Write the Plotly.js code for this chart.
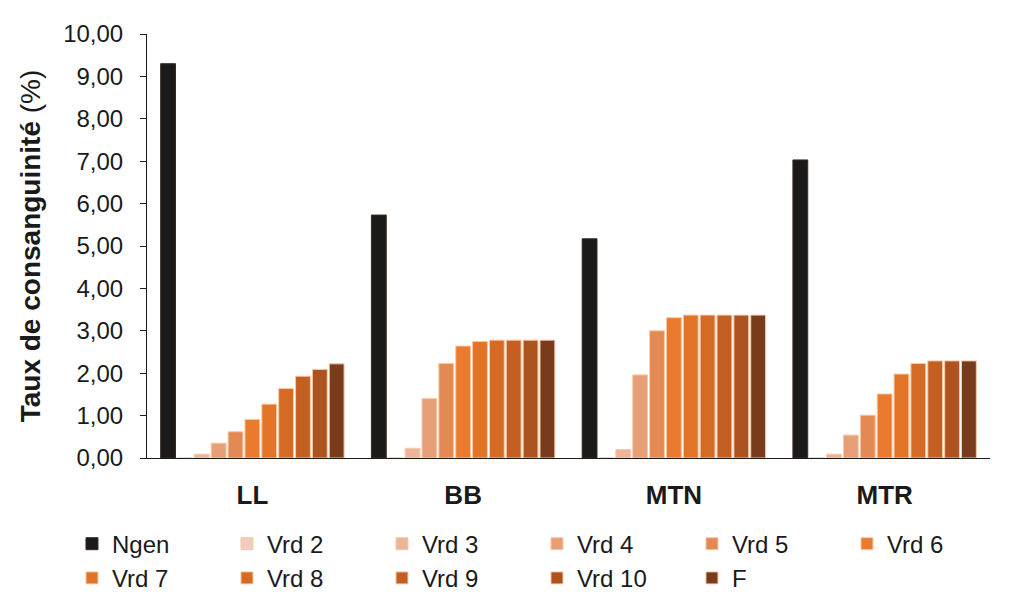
<!DOCTYPE html>
<html>
<head>
<meta charset="utf-8">
<script src="https://cdn.plot.ly/plotly-3.0.1.min.js"></script>
<style>html,body{margin:0;padding:0;background:#fff;}#chart{width:1022px;height:606px;}</style>
</head>
<body>
<div id="chart"></div>
<script>
const categories = ["LL", "BB", "MTN", "MTR"];
const seriesNames = ["Ngen", "Vrd 2", "Vrd 3", "Vrd 4", "Vrd 5", "Vrd 6", "Vrd 7", "Vrd 8", "Vrd 9", "Vrd 10", "F"];
const ngen  = [9.30, 5.73, 5.17, 7.03];
const vrd2  = [0.00, 0.00, 0.00, 0.00];
const vrd3  = [0.09, 0.23, 0.20, 0.09];
const vrd4  = [0.35, 1.40, 1.96, 0.54];
const vrd5  = [0.62, 2.23, 3.00, 1.01];
const vrd6  = [0.91, 2.64, 3.31, 1.51];
const vrd7  = [1.27, 2.75, 3.37, 1.98];
const vrd8  = [1.64, 2.78, 3.37, 2.23];
const vrd9  = [1.93, 2.78, 3.37, 2.29];
const vrd10 = [2.09, 2.78, 3.37, 2.29];
const fVal  = [2.22, 2.78, 3.37, 2.29];
const colors = ["#1c1a18", "#f2cdbd", "#ebb49b", "#e79f78", "#e38953", "#ea7b2e", "#e27428", "#d56a25", "#c35f22", "#ad531f", "#783b1b"];

const seriesValues = [ngen, vrd2, vrd3, vrd4, vrd5, vrd6, vrd7, vrd8, vrd9, vrd10, fVal];

const traces = seriesValues.map((vals, i) => ({
  type: "bar",
  name: seriesNames[i],
  x: categories,
  y: vals,
  marker: {color: colors[i], line: {color: i === 0 ? "#3a2a20" : "#f7c9a6", width: 1}},
  hoverinfo: "skip"
}));

const layout = {
  width: 1022,
  height: 606,
  paper_bgcolor: "#ffffff",
  plot_bgcolor: "#ffffff",
  separators: ", ",
  barmode: "group",
  bargap: 0.12,
  bargroupgap: 0.12,
  margin: {l: 147, r: 32, t: 34, b: 148, autoexpand: false},
  font: {family: "Liberation Sans, Arial, sans-serif", color: "#1a1a1a"},
  xaxis: {
    showline: true, linecolor: "#1a1a1a", linewidth: 1,
    ticks: "", showgrid: false, zeroline: false,
    tickfont: {size: 26, family: "Liberation Sans, Arial, sans-serif", color: "#1a1a1a", weight: "bold"},
    ticklabelstandoff: 14
  },
  yaxis: {
    range: [0, 10], dtick: 1, tickformat: ".2f",
    showline: true, linecolor: "#1a1a1a", linewidth: 1,
    ticks: "outside", ticklen: 6, tickcolor: "#1a1a1a",
    showgrid: false, zeroline: false,
    ticklabelstandoff: 12,
    tickfont: {size: 24, color: "#1a1a1a"},
    title: {text: "<b>Taux de consanguinité</b> (%)", font: {size: 28, color: "#1a1a1a"}, standoff: 14}
  },
  legend: {
    orientation: "h",
    x: -0.089, xanchor: "left",
    y: -0.15, yanchor: "top",
    entrywidth: 110, entrywidthmode: "pixels",
    itemwidth: 30,
    font: {size: 24, color: "#1a1a1a"},
    traceorder: "normal",
    tracegroupgap: 0
  },
  showlegend: true
};

Plotly.newPlot("chart", traces, layout, {displayModeBar: false, staticPlot: true});
</script>
</body>
</html>
